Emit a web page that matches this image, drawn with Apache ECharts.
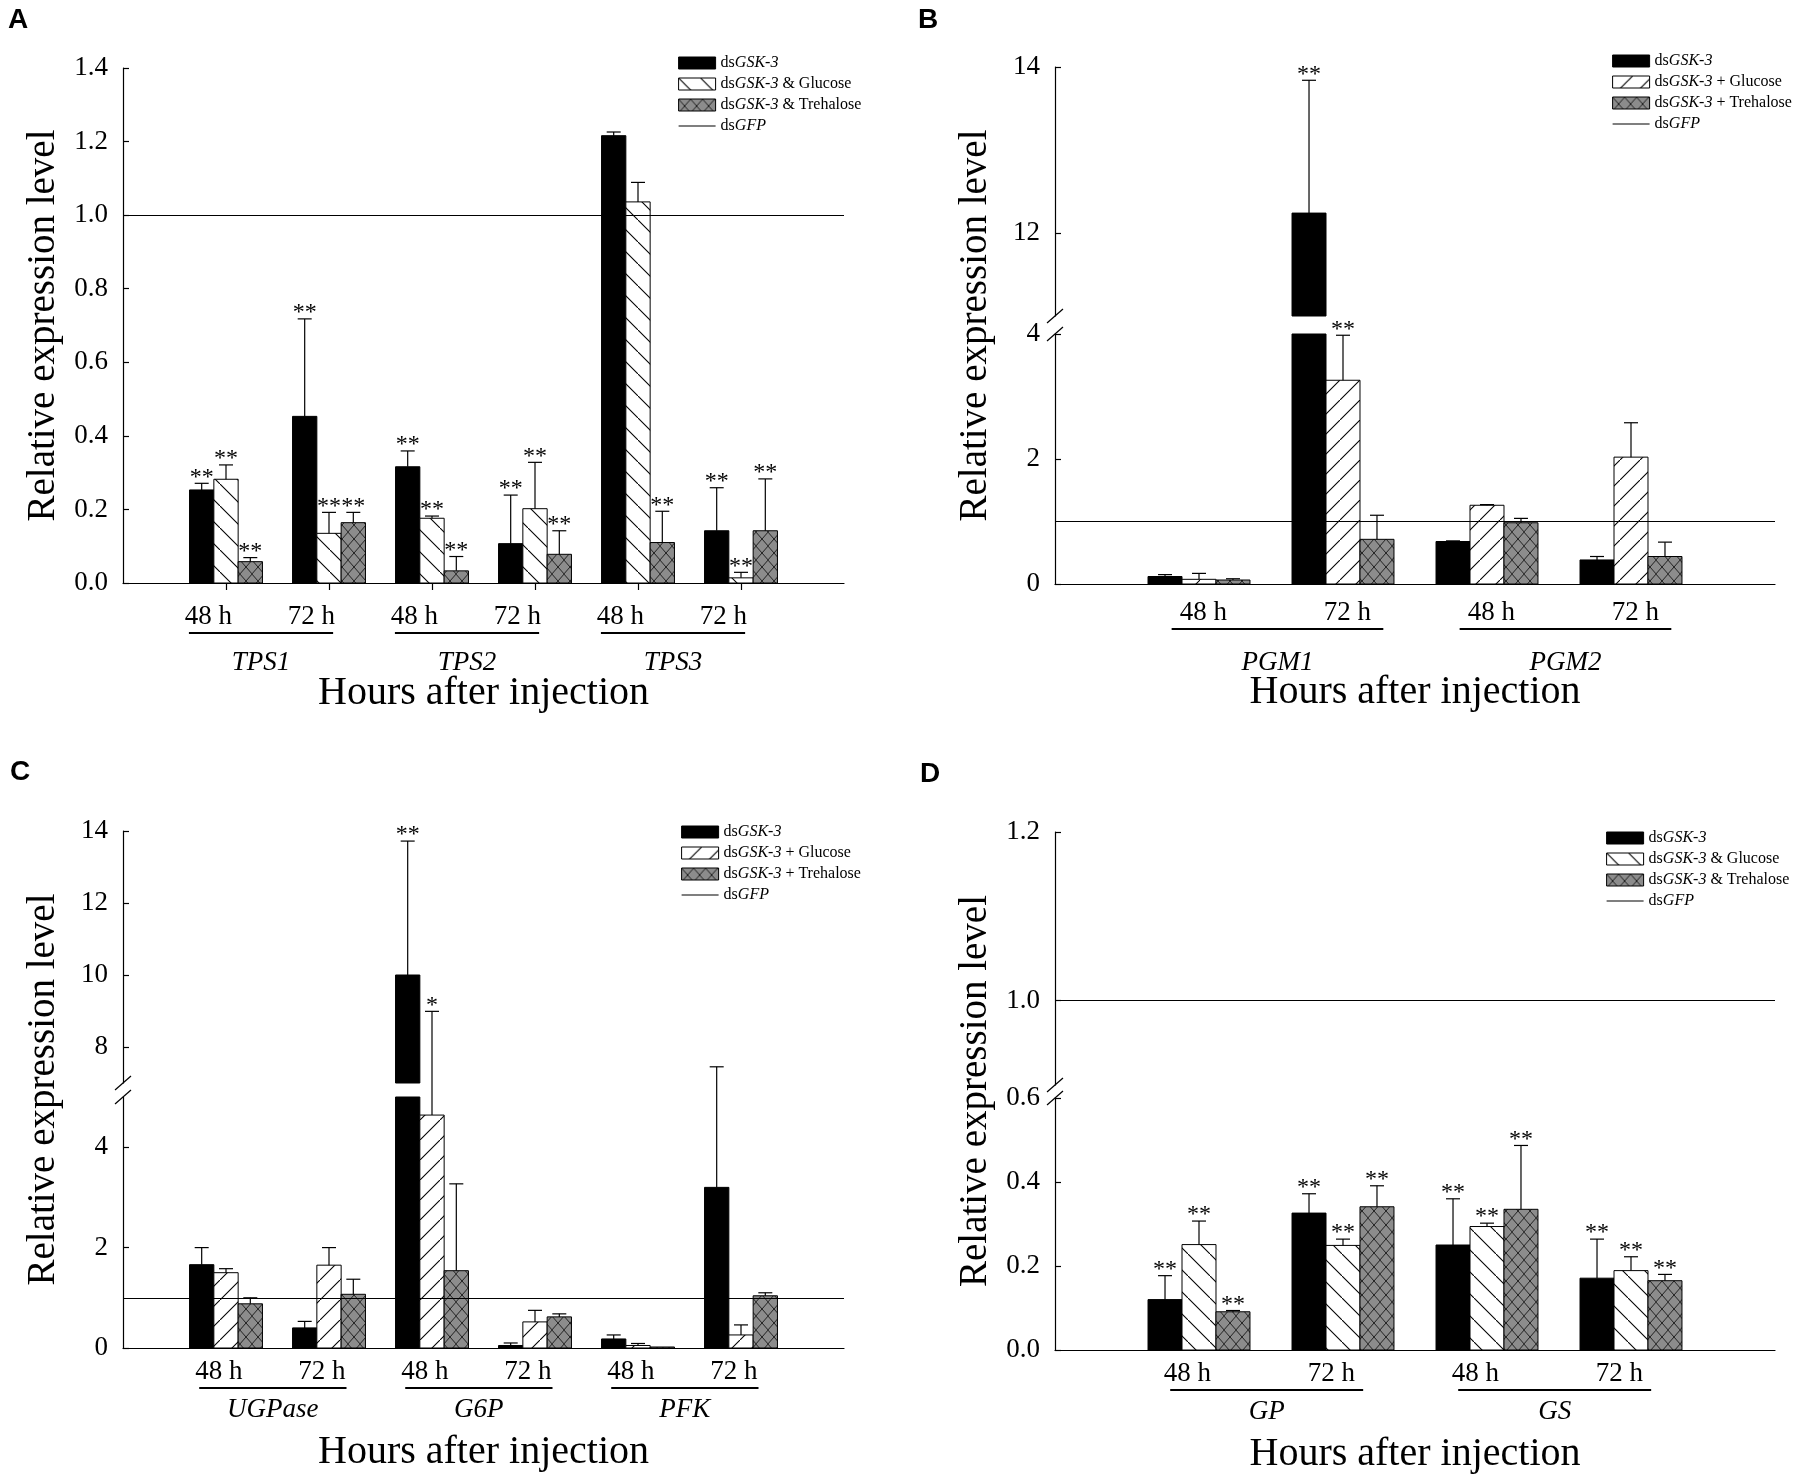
<!DOCTYPE html>
<html>
<head>
<meta charset="utf-8">
<script src="https://cdn.jsdelivr.net/npm/echarts@6/dist/echarts.min.js"></script>
<style>
html, body { margin: 0; background: #fff; }
#main { width: 1803px; height: 1484px; }
</style>
</head>
<body>
<div id="main"></div>
<script>
// ---------- data ----------
var timeLabels = ['48 h', '72 h'];
var gfpLevel = 1;

// A: TPS genes
var genesA = ['TPS1', 'TPS2', 'TPS3'];
var aBlack   = [0.253, 0.453, 0.316, 0.107, 1.216, 0.142];
var aBlackSE = [0.018, 0.265, 0.043, 0.132, 0.010, 0.117];
var aGlu     = [0.282, 0.135, 0.176, 0.202, 1.036, 0.014];
var aGluSE   = [0.039, 0.057, 0.006, 0.126, 0.053, 0.015];
var aTre     = [0.058, 0.164, 0.033, 0.078, 0.110, 0.142];
var aTreSE   = [0.011, 0.028, 0.039, 0.064, 0.085, 0.141];
var aBlackSig = ['**', '**', '**', '**', '', '**'];
var aGluSig   = ['**', '**', '**', '**', '', '**'];
var aTreSig   = ['**', '**', '**', '**', '**', '**'];
var aTicks = [0, 0.2, 0.4, 0.6, 0.8, 1.0, 1.2, 1.4];

// B: PGM genes
var genesB = ['PGM1', 'PGM2'];
var bBlack   = [0.12, 12.24, 0.68, 0.385];
var bBlackSE = [0.03, 1.60, 0.01, 0.055];
var bGlu     = [0.075, 3.26, 1.26, 2.03];
var bGluSE   = [0.095, 0.72, 0.01, 0.55];
var bTre     = [0.064, 0.715, 0.98, 0.44];
var bTreSE   = [0.02, 0.385, 0.07, 0.23];
var bBlackSig = ['', '**', '', ''];
var bGluSig   = ['', '**', '', ''];
var bTreSig   = ['', '', '', ''];
var bTicksHigh = [12, 14];
var bTicksLow = [0, 2, 4];

// C: UGPase, G6P, PFK
var genesC = ['UGPase', 'G6P', 'PFK'];
var cBlack   = [1.66, 0.40, 10.0, 0.05, 0.18, 3.20];
var cBlackSE = [0.34, 0.13, 3.72, 0.05, 0.08, 4.25];
var cGlu     = [1.50, 1.65, 4.64, 0.52, 0.05, 0.26];
var cGluSE   = [0.08, 0.35, 4.35, 0.23, 0.04, 0.20];
var cTre     = [0.88, 1.07, 1.54, 0.62, 0.02, 1.04];
var cTreSE   = [0.12, 0.30, 1.73, 0.06, 0.00, 0.06];
var cBlackSig = ['', '', '**', '', '', ''];
var cGluSig   = ['', '', '*', '', '', ''];
var cTreSig   = ['', '', '', '', '', ''];
var cTicksHigh = [8, 10, 12, 14];
var cTicksLow = [0, 2, 4];

// D: GP, GS
var genesD = ['GP', 'GS'];
var dBlack   = [0.12, 0.326, 0.25, 0.171];
var dBlackSE = [0.057, 0.046, 0.11, 0.093];
var dGlu     = [0.251, 0.249, 0.294, 0.189];
var dGluSE   = [0.056, 0.015, 0.008, 0.033];
var dTre     = [0.091, 0.341, 0.335, 0.165];
var dTreSE   = [0.003, 0.05, 0.152, 0.015];
var dBlackSig = ['**', '**', '**', '**'];
var dGluSig   = ['**', '**', '**', '**'];
var dTreSig   = ['**', '**', '**', '**'];
var dTicksHigh = [1.0, 1.2];
var dTicksLow = [0, 0.2, 0.4, 0.6];

var namesAmp = ['dsGSK-3', 'dsGSK-3 & Glucose', 'dsGSK-3 & Trehalose', 'dsGFP'];
var namesPlus = ['dsGSK-3', 'dsGSK-3 + Glucose', 'dsGSK-3 + Trehalose', 'dsGFP'];

// ---------- fills ----------
var FONT = 'Liberation Serif';
var BAR_W = 0.236;
var CAP = 7;

function hatch(forward, size) {
    var c = document.createElement('canvas');
    c.width = size; c.height = size;
    var g = c.getContext('2d');
    g.fillStyle = '#fff';
    g.fillRect(0, 0, size, size);
    g.strokeStyle = '#000';
    g.lineWidth = 1.1;
    g.beginPath();
    if (forward) { g.moveTo(-1, size + 1); g.lineTo(size + 1, -1); }
    else { g.moveTo(-1, -1); g.lineTo(size + 1, size + 1); }
    g.stroke();
    return { image: c, repeat: 'repeat' };
}
function crossHatch(w, h) {
    var c = document.createElement('canvas');
    c.width = w; c.height = h;
    var g = c.getContext('2d');
    g.fillStyle = '#8c8c8c';
    g.fillRect(0, 0, w, h);
    g.strokeStyle = '#222';
    g.lineWidth = 1;
    g.beginPath();
    g.moveTo(-1, -1); g.lineTo(w + 1, h + 1);
    g.moveTo(w + 1, -1); g.lineTo(-1, h + 1);
    g.stroke();
    return { image: c, repeat: 'repeat' };
}
var fillBlack = '#000';
var fillBack = hatch(false, 22);
var fillFwd = hatch(true, 20);
var fillCross = crossHatch(12, 14);

// ---------- renderers ----------
function barRenderer(k, fill, sig, seg, gap) {
    return function (params, api) {
        var cs = params.coordSys;
        var xc = api.value(0), v = api.value(1), se = api.value(2), i = api.value(3);
        var unit = api.size([1, 0])[0];
        var w = BAR_W * unit;
        var x0 = api.coord([xc, 0])[0] + (k - 1.5) * w;
        var cx = x0 + w / 2;
        var top = cs.y, bot = cs.y + cs.height;
        var yBase = api.coord([xc, 0])[1];
        var yVal = api.coord([xc, v])[1];
        var yErr = api.coord([xc, v + se])[1];
        var kids = [];
        var r = echarts.graphic.clipRectByRect(
            { x: x0, y: yVal, width: w, height: yBase - yVal },
            { x: cs.x, y: cs.y, width: cs.width, height: cs.height });
        if (r && r.height > 0) {
            kids.push({ type: 'rect', shape: r, style: { fill: fill, stroke: '#000', lineWidth: 1 } });
        }
        var errIn = yErr >= top - 0.5 && yErr <= bot + 0.5;
        var y1 = null, y2 = null;
        if (yVal >= top - 0.5 && yVal <= bot + 0.5) {
            y1 = yVal;
            if (errIn) y2 = yErr;
            else if (yErr < top && seg === 'low') y2 = top - gap;
        } else if (yVal > bot && errIn) {
            y1 = bot; y2 = yErr;
        }
        if (y1 !== null && y2 !== null && y1 - y2 > 0.5) {
            kids.push({ type: 'line', shape: { x1: cx, y1: y1, x2: cx, y2: y2 }, style: { stroke: '#000', lineWidth: 1.2 } });
        }
        if (errIn) {
            if (se > 0) {
                kids.push({ type: 'line', shape: { x1: cx - CAP, y1: yErr, x2: cx + CAP, y2: yErr }, style: { stroke: '#000', lineWidth: 1.2 } });
            }
            if (sig[i]) {
                kids.push({ type: 'text', style: { text: sig[i], x: cx, y: yErr - 6, align: 'center', verticalAlign: 'middle',
                    fontSize: 24, fontFamily: FONT, fill: '#000' } });
            }
        }
        return { type: 'group', children: kids };
    };
}

function geneRenderer(genes, cfg) {
    return function (params, api) {
        var p1 = api.coord([api.value(0) + cfg.ulFrom, 0]);
        var p2 = api.coord([api.value(1) + cfg.ulTo, 0]);
        var y = p1[1] + cfg.ulDy;
        return { type: 'group', children: [
            { type: 'line', shape: { x1: p1[0], y1: y, x2: p2[0], y2: y }, style: { stroke: '#000', lineWidth: 2 } },
            { type: 'text', style: { text: genes[api.value(2)], x: (p1[0] + p2[0]) / 2, y: p1[1] + cfg.geneDy,
                align: 'center', verticalAlign: 'middle', fontSize: 27, fontStyle: 'italic', fontFamily: FONT, fill: '#000' } }
        ] };
    };
}

// ---------- option building ----------
var option = {
    animation: false,
    backgroundColor: '#fff',
    grid: [], xAxis: [], yAxis: [], series: [], legend: [], graphic: []
};
var axisLineStyle = { color: '#000', width: 1.2 };

function addPanel(cfg) {
    var n = cfg.values[0].length;
    var centers = [];
    for (var c = 1; c <= n; c++) centers.push(c);
    cfg.segs.forEach(function (s, si) {
        var gi = option.grid.length;
        var isBottom = si === cfg.segs.length - 1;
        var seg = cfg.segs.length === 1 ? 'only' : (isBottom ? 'low' : 'high');
        option.grid.push({ left: s.rect[0], top: s.rect[1], width: s.rect[2], height: s.rect[3], outerBoundsMode: 'none' });
        if (isBottom) {
            option.xAxis.push({
                type: 'value', gridIndex: gi, min: 0, max: cfg.xMax,
                axisLine: { show: true, onZero: false, lineStyle: axisLineStyle },
                axisTick: { show: cfg.xTicks, customValues: centers, length: 7, lineStyle: axisLineStyle },
                axisLabel: {
                    customValues: centers.map(function (v) { return v + cfg.labelShift; }),
                    formatter: function (v) { return timeLabels[(Math.round(v - cfg.labelShift) - 1) % 2]; },
                    color: '#000', fontFamily: FONT, fontSize: 27, lineHeight: 28, margin: cfg.labelMargin
                },
                splitLine: { show: false },
                name: 'Hours after injection', nameLocation: 'middle', nameGap: cfg.xNameGap, nameMoveOverlap: false,
                nameTextStyle: { color: '#000', fontFamily: FONT, fontSize: 40 }
            });
        } else {
            option.xAxis.push({ type: 'value', gridIndex: gi, min: 0, max: cfg.xMax, show: false });
        }
        var y = {
            type: 'value', gridIndex: gi, min: s.min, max: s.max,
            axisLine: { show: true, onZero: false, lineStyle: axisLineStyle },
            axisTick: { show: true, inside: true, length: 6, customValues: s.ticks, lineStyle: axisLineStyle },
            axisLabel: {
                customValues: s.ticks,
                formatter: function (v) { return v.toFixed(cfg.dec); },
                color: '#000', fontFamily: FONT, fontSize: 27, margin: 15
            },
            splitLine: { show: false }
        };
        if (cfg.segs.length === 1) {
            y.name = 'Relative expression level';
            y.nameLocation = 'middle';
            y.nameGap = cfg.yNameGap;
            y.nameRotate = 90;
            y.nameMoveOverlap = false;
            y.nameTextStyle = { color: '#000', fontFamily: FONT, fontSize: 39 };
        }
        option.yAxis.push(y);
        for (var k = 0; k < 3; k++) {
            option.series.push({
                type: 'custom', name: cfg.names[k], xAxisIndex: gi, yAxisIndex: gi,
                itemStyle: { color: cfg.fills[k], borderColor: '#000', borderWidth: 1 },
                data: cfg.values[k].map(function (v, i) { return [i + 1, v, cfg.errors[k][i], i]; }),
                renderItem: barRenderer(k, cfg.fills[k], cfg.sig[k], seg, cfg.gap || 0)
            });
        }
        if (gfpLevel >= s.min && gfpLevel <= s.max) {
            option.series.push({
                type: 'line', name: cfg.names[3], xAxisIndex: gi, yAxisIndex: gi, data: [],
                symbol: 'none', itemStyle: { color: '#000' }, lineStyle: { color: '#000', width: 1.2 },
                markLine: { silent: true, symbol: ['none', 'none'], label: { show: false },
                    lineStyle: { color: '#000', width: 1.2, type: 'solid' }, data: [{ yAxis: gfpLevel }] }
            });
        }
        if (isBottom) {
            option.series.push({
                type: 'custom', name: 'genes', xAxisIndex: gi, yAxisIndex: gi, silent: true,
                data: cfg.genes.map(function (g, j) { return [2 * j + 1, 2 * j + 2, j]; }),
                renderItem: geneRenderer(cfg.genes, cfg)
            });
        }
    });

    if (cfg.segs.length > 1) {
        // helper axis carrying the y title across the broken axis
        var first = cfg.segs[0].rect, last = cfg.segs[cfg.segs.length - 1].rect;
        var hi = option.grid.length;
        option.grid.push({ left: first[0], top: first[1], width: first[2], height: last[1] + last[3] - first[1], outerBoundsMode: 'none' });
        option.xAxis.push({ type: 'value', gridIndex: hi, show: false });
        option.yAxis.push({
            type: 'value', gridIndex: hi, min: 0, max: 1,
            axisLine: { show: false }, axisTick: { show: false }, axisLabel: { show: false }, splitLine: { show: false },
            name: 'Relative expression level', nameLocation: 'middle', nameGap: cfg.yNameGap, nameRotate: 90, nameMoveOverlap: false,
            nameTextStyle: { color: '#000', fontFamily: FONT, fontSize: 39 }
        });
        // break marks on the y axis
        var ax = first[0];
        [first[1] + first[3], cfg.segs[1].rect[1]].forEach(function (yy) {
            option.graphic.push({ type: 'line', shape: { x1: ax - 8, y1: yy + 7, x2: ax + 8, y2: yy - 7 },
                style: { stroke: '#000', lineWidth: 1.2 }, z: 100 });
        });
    }

    option.legend.push({
        orient: 'vertical', left: cfg.legend[0], top: cfg.legend[1],
        itemWidth: 37, itemHeight: 12, itemGap: 3, selectedMode: false,
        textStyle: { color: '#000', fontFamily: FONT, fontSize: 16, lineHeight: 18,
            rich: { i: { fontStyle: 'italic', fontFamily: FONT, fontSize: 16, color: '#000', lineHeight: 18 } } },
        formatter: function (name) {
            return name.replace('GSK-3', '{i|GSK-3}').replace('GFP', '{i|GFP}');
        },
        data: cfg.names.map(function (nm, k) {
            if (k === 3) {
                return { name: nm, itemStyle: { color: 'rgba(0,0,0,0)', borderColor: 'rgba(0,0,0,0)', borderWidth: 0 },
                    lineStyle: { color: '#000', width: 1.2 } };
            }
            return { name: nm, icon: 'rect', itemStyle: { color: cfg.fills[k], borderColor: '#000', borderWidth: 1 } };
        })
    });

    option.graphic.push({ type: 'text', left: cfg.letter[0], top: cfg.letter[1],
        style: { text: cfg.label, fontSize: 28, fontWeight: 'bold', fontFamily: 'Liberation Sans', fill: '#000' } });
}

addPanel({
    label: 'A', letter: [8, 6], legend: [673, 49],
    segs: [{ rect: [123, 68, 721, 515], min: 0, max: 1.4, ticks: aTicks }],
    xMax: 7, dec: 1, names: namesAmp, fills: [fillBlack, fillBack, fillCross],
    values: [aBlack, aGlu, aTre], errors: [aBlackSE, aGluSE, aTreSE], sig: [aBlackSig, aGluSig, aTreSig],
    genes: genesA, labelShift: -0.17, xTicks: true, ulFrom: -0.36, ulTo: 0.04, ulDy: 50, geneDy: 80,
    labelMargin: 20, xNameGap: 90, yNameGap: 60
});
addPanel({
    label: 'B', letter: [918, 6], legend: [1607, 47],
    segs: [{ rect: [1055, 67, 720, 249], min: 11, max: 14, ticks: bTicksHigh },
           { rect: [1055, 334, 720, 250], min: 0, max: 4, ticks: bTicksLow }],
    gap: 18, xMax: 5, dec: 0, names: namesPlus, fills: [fillBlack, fillFwd, fillCross],
    values: [bBlack, bGlu, bTre], errors: [bBlackSE, bGluSE, bTreSE], sig: [bBlackSig, bGluSig, bTreSig],
    genes: genesB, labelShift: 0.03, xTicks: false, ulFrom: -0.19, ulTo: 0.28, ulDy: 45, geneDy: 79,
    labelMargin: 15, xNameGap: 88, yNameGap: 60
});
addPanel({
    label: 'C', letter: [10, 758], legend: [676, 818],
    segs: [{ rect: [123, 831, 721, 252], min: 7, max: 14, ticks: cTicksHigh },
           { rect: [123, 1097, 721, 251], min: 0, max: 5, ticks: cTicksLow }],
    gap: 14, xMax: 7, dec: 0, names: namesPlus, fills: [fillBlack, fillFwd, fillCross],
    values: [cBlack, cGlu, cTre], errors: [cBlackSE, cGluSE, cTreSE], sig: [cBlackSig, cGluSig, cTreSig],
    genes: genesC, labelShift: -0.07, xTicks: false, ulFrom: -0.26, ulTo: 0.17, ulDy: 40, geneDy: 62,
    labelMargin: 10, xNameGap: 84, yNameGap: 60
});
addPanel({
    label: 'D', letter: [920, 760], legend: [1601, 824],
    segs: [{ rect: [1055, 832, 720, 253], min: 0.9, max: 1.2, ticks: dTicksHigh },
           { rect: [1055, 1098, 720, 252], min: 0, max: 0.6, ticks: dTicksLow }],
    gap: 13, xMax: 5, dec: 1, names: namesAmp, fills: [fillBlack, fillBack, fillCross],
    values: [dBlack, dGlu, dTre], errors: [dBlackSE, dGluSE, dTreSE], sig: [dBlackSig, dGluSig, dTreSig],
    genes: genesD, labelShift: -0.08, xTicks: false, ulFrom: -0.2, ulTo: 0.14, ulDy: 40, geneDy: 62,
    labelMargin: 10, xNameGap: 84, yNameGap: 60
});

var chart = echarts.init(document.getElementById('main'));
chart.setOption(option);
</script>
</body>
</html>
